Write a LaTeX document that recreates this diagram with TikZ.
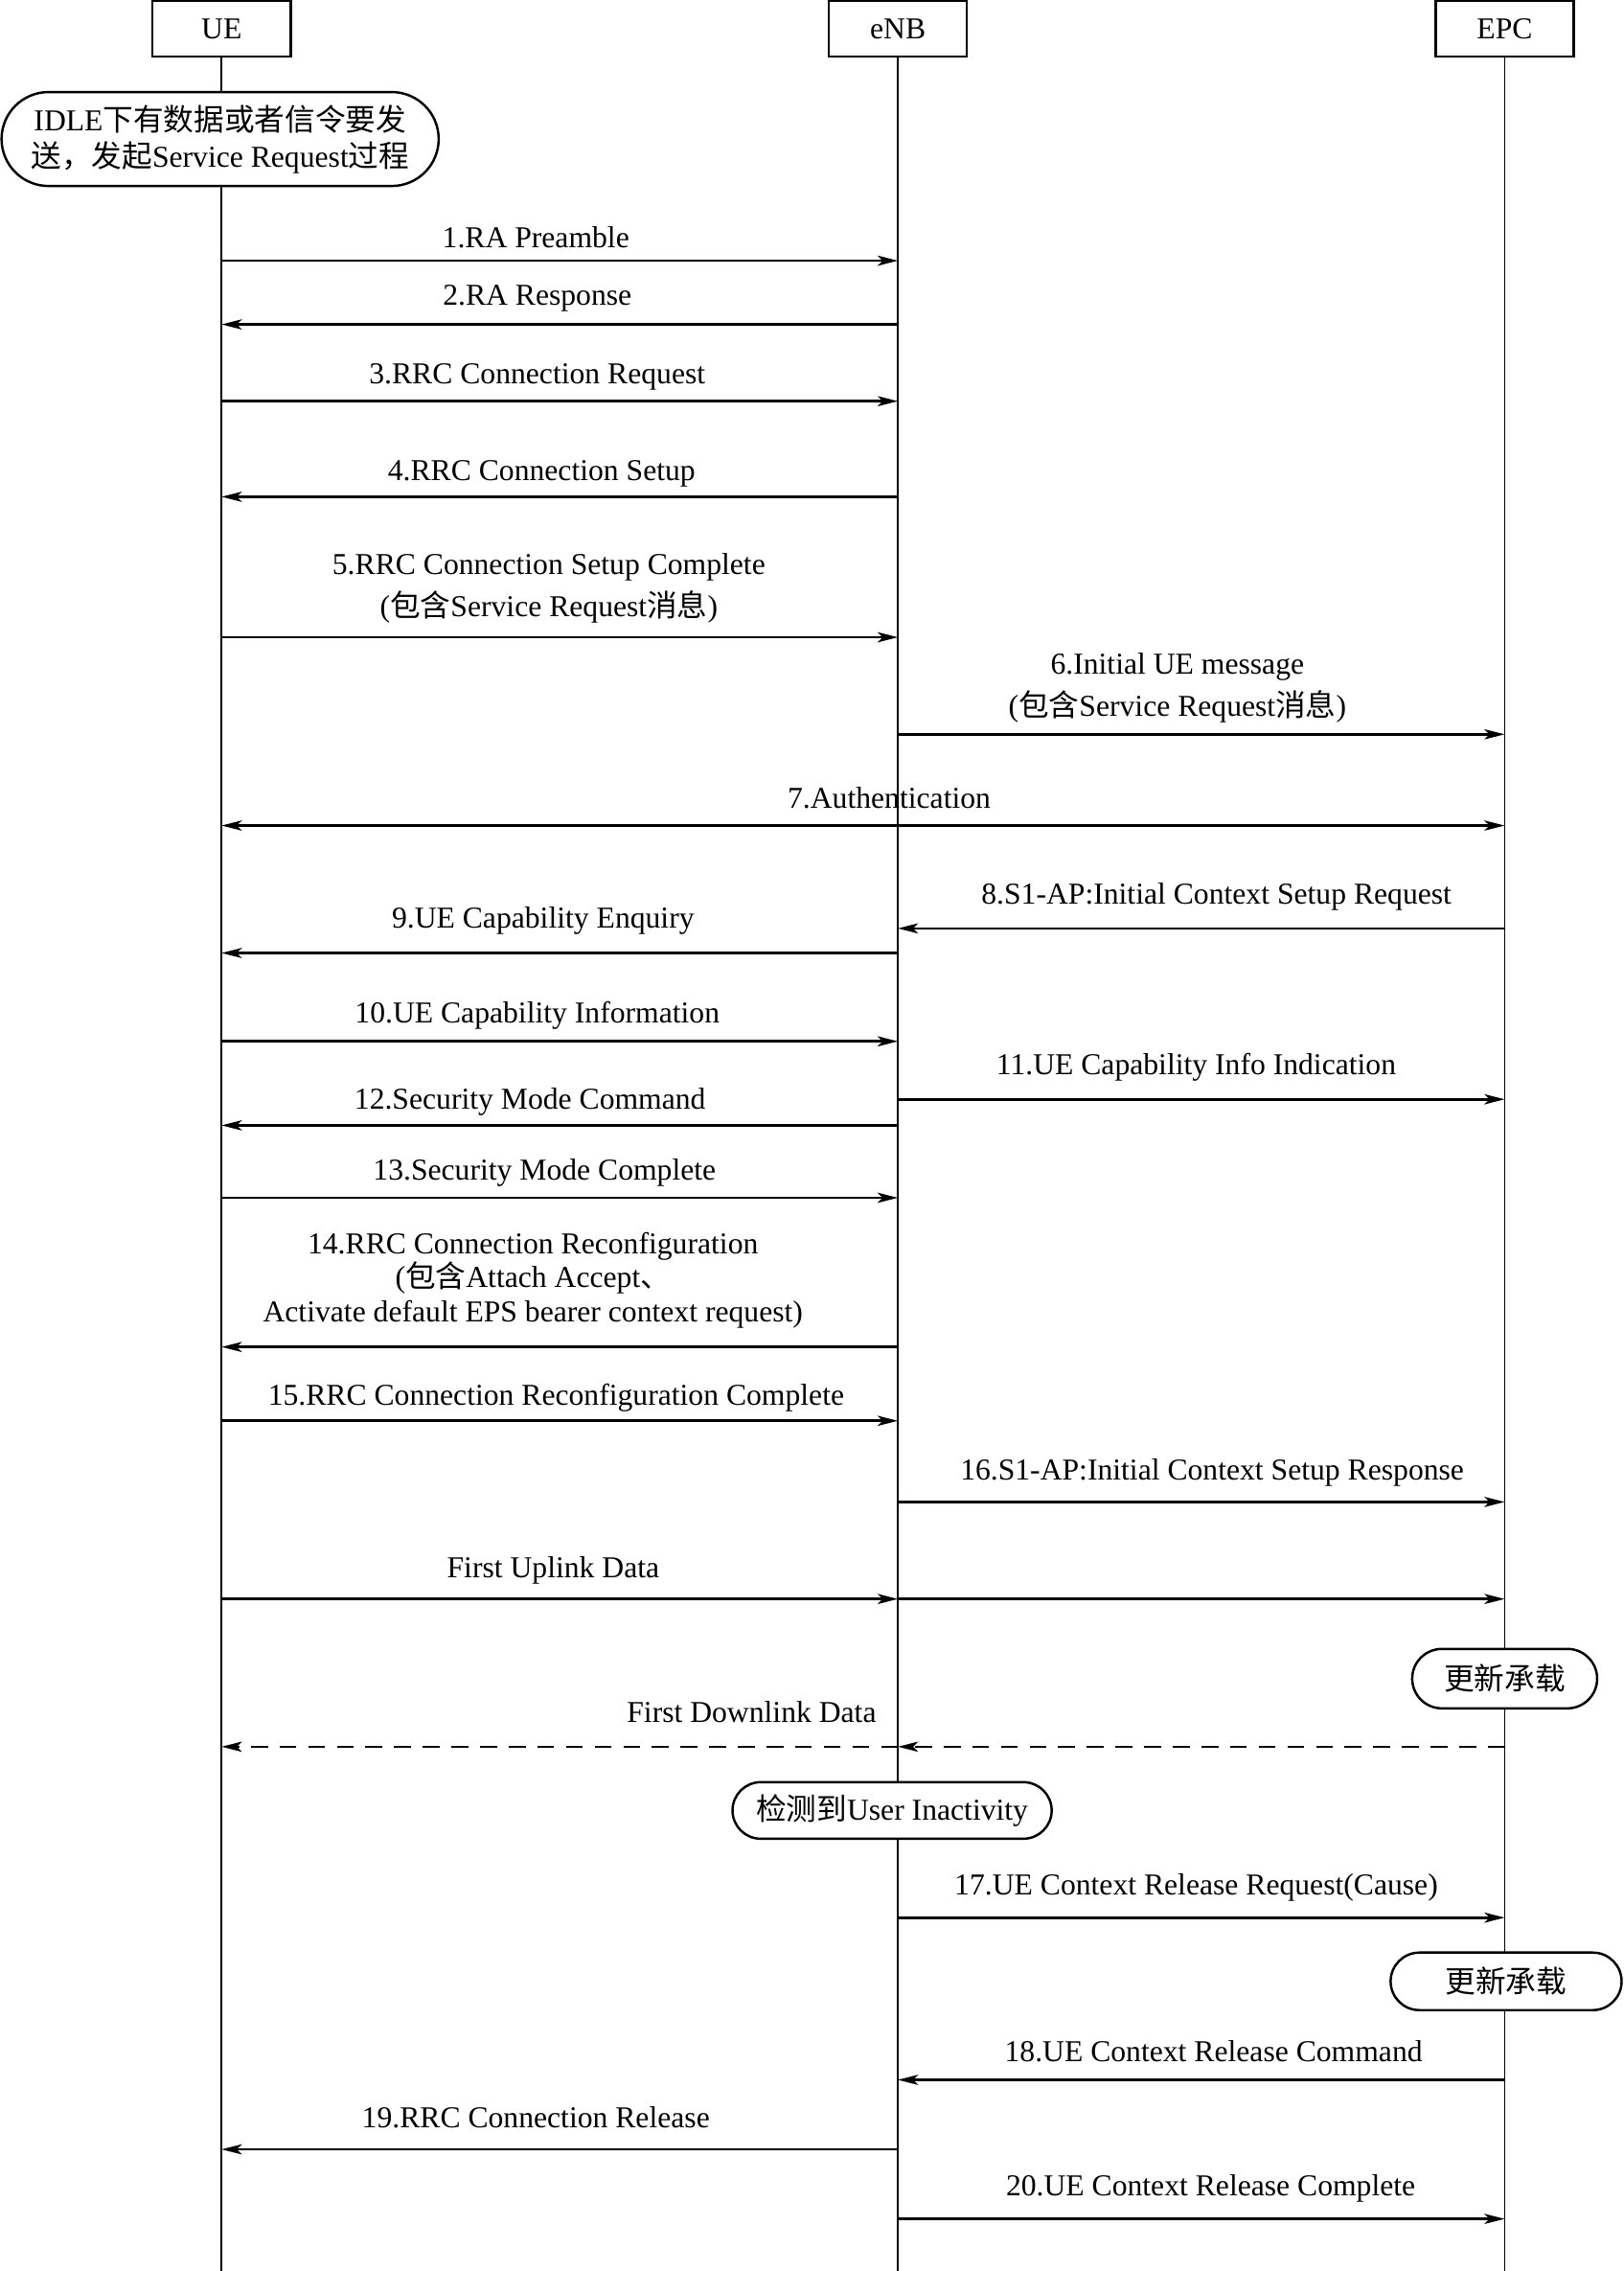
\documentclass[tikz,border=0pt]{standalone}
\usepackage{fontspec}
\setmainfont{Liberation Serif}
\newfontfamily\cjk{Noto Sans CJK SC}
\usetikzlibrary{arrows.meta, positioning, shapes.misc}

\begin{document}
\begin{tikzpicture}[x=0.01511cm, y=-0.01511cm, font=\fontsize{9}{11}\selectfont]
    % Define styles
    \tikzstyle{entity} = [rectangle, draw, line width=0.7pt, minimum width=1.44cm, minimum height=0.58cm, inner sep=1pt]
    \tikzstyle{state} = [rounded rectangle, draw, line width=0.7pt, fill=white, inner sep=2pt, align=center]
    \tikzstyle{lifeline} = [draw, line width=0.5pt]
    \tikzstyle{msg} = [draw, line width=0.75pt, -{Stealth[length=6pt, width=3pt, inset=1.5pt]}]
    \tikzstyle{msgboth} = [msg, {Stealth[length=6pt, width=3pt, inset=1.5pt]}-{Stealth[length=6pt, width=3pt, inset=1.5pt]}]
    \tikzstyle{dmsg} = [msg, dash pattern=on 5pt off 3.5pt]
    \tikzstyle{lbl} = [inner sep=1pt, align=center]

    % Page frame
    \useasboundingbox (0,0) rectangle (1121,1568);

    % Entities
    \node[entity] (UE) at (153,20) {UE};
    \node[entity] (eNB) at (620,20) {eNB};
    \node[entity] (EPC) at (1039,20) {EPC};

    % Lifelines
    \coordinate (bottom) at (0,1568);
    \draw[lifeline] (UE.south) -- (UE.south |- bottom);
    \draw[lifeline] (eNB.south) -- (eNB.south |- bottom);
    \draw[lifeline] (EPC.south) -- (EPC.south |- bottom);

    % States on the lifelines
    \node[state, minimum width=4.70cm, minimum height=0.98cm, font=\fontsize{9}{10.8}\selectfont] (idle) at (152,96)
        {IDLE{\cjk 下有数据或者信令要发}\\{\cjk 送，发起}Service Request{\cjk 过程}};
    \node[state, minimum width=2.07cm, minimum height=0.62cm] (upd1) at (1039,1159) {\cjk 更新承载};
    \node[state, minimum width=3.47cm, minimum height=0.59cm] (inact) at (616,1250) {{\cjk 检测到}User Inactivity};
    \node[state, minimum width=2.55cm, minimum height=0.60cm] (upd2) at (1040,1368) {\cjk 更新承载};

    % Rows of the messages
    \foreach \n/\y in {1/180, 2/224, 3/277, 4/343, 5/440, 6/507, 7/570, 8/641, 9/658, 10/719,
                       11/759, 12/777, 13/827, 14/930, 15/981, 16/1037, ul/1104, dl/1206,
                       17/1324, 18/1436, 19/1484, 20/1532}
        \coordinate (r\n) at (0,\y);

    % Random access and RRC connection
    \draw[msg] (UE |- r1) -- (eNB |- r1);
    \node[lbl] (t1) at (370,164) {1.RA Preamble};
    \draw[msg] (eNB |- r2) -- (UE |- r2);
    \node[lbl] (t2) at (371,206) {2.RA Response};
    \draw[msg] (UE |- r3) -- (eNB |- r3);
    \node[lbl] (t3) at (371,260) {3.RRC Connection Request};
    \draw[msg] (eNB |- r4) -- (UE |- r4);
    \node[lbl] (t4) at (374,327) {4.RRC Connection Setup};
    \draw[msg] (UE |- r5) -- (eNB |- r5);
    \node[lbl, font=\fontsize{9}{12.4}\selectfont] (t5) at (379,406)
        {5.RRC Connection Setup Complete\\({\cjk 包含}Service Request{\cjk 消息})};

    % S1 and authentication
    \draw[msg] (eNB |- r6) -- (EPC |- r6);
    \node[lbl, font=\fontsize{9}{12.4}\selectfont] (t6) at (813,475)
        {6.Initial UE message\\({\cjk 包含}Service Request{\cjk 消息})};
    \draw[msgboth] (UE |- r7) -- (EPC |- r7);
    \node[lbl] (t7) at (614,551) {7.Authentication};
    \draw[msg] (EPC |- r8) -- (eNB |- r8);
    \node[lbl] (t8) at (840,619) {8.S1-AP:Initial Context Setup Request};

    % UE capability and security
    \draw[msg] (eNB |- r9) -- (UE |- r9);
    \node[lbl] (t9) at (375,636) {9.UE Capability Enquiry};
    \draw[msg] (UE |- r10) -- (eNB |- r10);
    \node[lbl] (t10) at (371,701) {10.UE Capability Information};
    \draw[msg] (eNB |- r11) -- (EPC |- r11);
    \node[lbl] (t11) at (826,737) {11.UE Capability Info Indication};
    \draw[msg] (eNB |- r12) -- (UE |- r12);
    \node[lbl] (t12) at (366,761) {12.Security Mode Command};
    \draw[msg] (UE |- r13) -- (eNB |- r13);
    \node[lbl] (t13) at (376,810) {13.Security Mode Complete};

    % Reconfiguration
    \draw[msg] (eNB |- r14) -- (UE |- r14);
    \node[lbl, font=\fontsize{9}{10.1}\selectfont] (t14) at (368,884)
        {14.RRC Connection Reconfiguration\\({\cjk 包含}Attach Accept{\cjk 、}\\Activate default EPS bearer context request)};
    \draw[msg] (UE |- r15) -- (eNB |- r15);
    \node[lbl] (t15) at (384,965) {15.RRC Connection Reconfiguration Complete};
    \draw[msg] (eNB |- r16) -- (EPC |- r16);
    \node[lbl] (t16) at (837,1017) {16.S1-AP:Initial Context Setup Response};

    % User data
    \draw[msg] (UE |- rul) -- (eNB |- rul);
    \draw[msg] (eNB |- rul) -- (EPC |- rul);
    \node[lbl] (tul) at (382,1084) {First Uplink Data};
    \draw[dmsg] (EPC |- rdl) -- (eNB |- rdl);
    \draw[dmsg] (eNB |- rdl) -- (UE |- rdl);
    \node[lbl] (tdl) at (519,1182) {First Downlink Data};

    % Release
    \draw[msg] (eNB |- r17) -- (EPC |- r17);
    \node[lbl] (t17) at (826,1303) {17.UE Context Release Request(Cause)};
    \draw[msg] (EPC |- r18) -- (eNB |- r18);
    \node[lbl] (t18) at (838,1416) {18.UE Context Release Command};
    \draw[msg] (eNB |- r19) -- (UE |- r19);
    \node[lbl] (t19) at (370,1462) {19.RRC Connection Release};
    \draw[msg] (eNB |- r20) -- (EPC |- r20);
    \node[lbl] (t20) at (836,1511) {20.UE Context Release Complete};
\end{tikzpicture}
\end{document}
